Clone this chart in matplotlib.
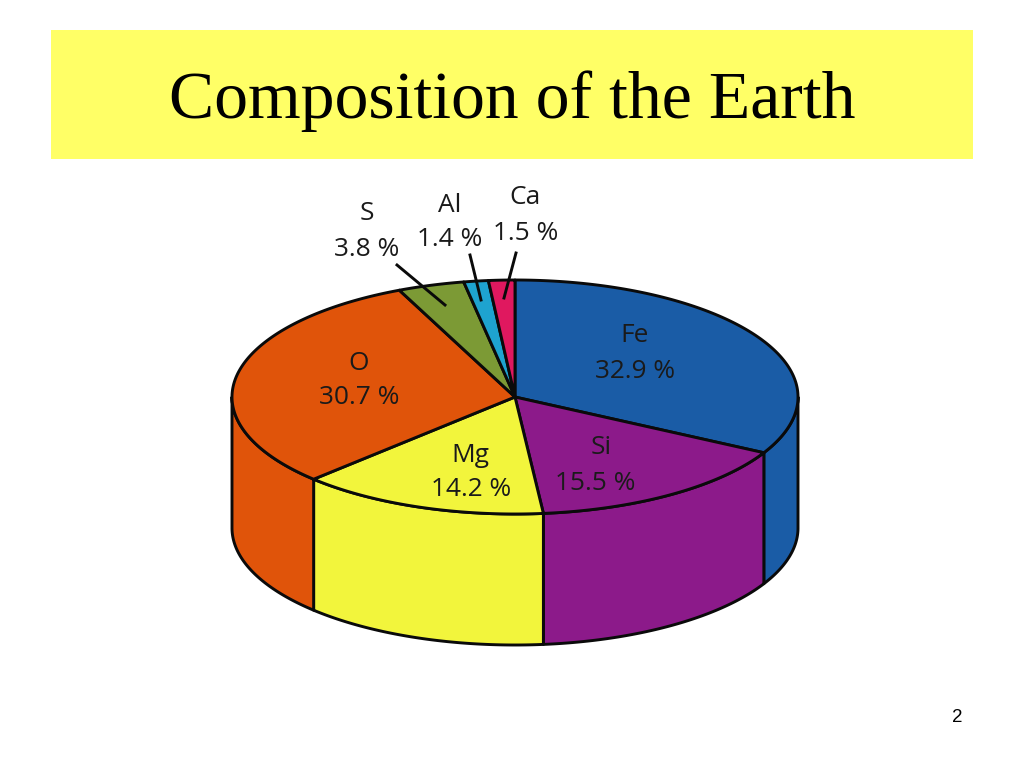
import numpy as np
import matplotlib
matplotlib.use('Agg')
import matplotlib.pyplot as plt
from matplotlib.patches import Polygon, Rectangle

elements = ['Fe', 'Si', 'Mg', 'O', 'S', 'Al', 'Ca']
percents = [32.9, 15.5, 14.2, 30.7, 3.8, 1.4, 1.5]
colors = ['#1a5ca6', '#8c1a8a', '#f2f53c', '#e0540a', '#7c9a35', '#1ea3cf', '#e0185f']
name_pos = [(635, 336), (601, 448), (470, 455), (359, 364), (367, 214), (450, 206), (525, 198)]
value_pos = [(635, 371), (595, 483), (471, 490), (359, 398), (367, 250), (450, 240), (526, 234)]

cx, cy, rx, ry, depth = 515, 397, 283, 117, 131
edge = '#0a0a0a'


def rim(a, b, drop=0):
    # points on the ellipse, angle clockwise from the top
    t = np.radians(np.linspace(a, b, 200))
    return np.column_stack([cx + rx * np.sin(t), cy - ry * np.cos(t) + drop])


fig = plt.figure(figsize=(10.24, 7.68), dpi=100)
ax = fig.add_axes([0, 0, 1, 1])
ax.set_xlim(0, 1024)
ax.set_ylim(768, 0)
ax.axis('off')

ax.add_patch(Rectangle((51, 30), 922, 129, color='#ffff66', lw=0))
ax.text(512, 101, 'Composition of the Earth', ha='center', va='center',
        fontsize=48.8, family='Liberation Serif', color='black')

ends = np.cumsum(percents) / sum(percents) * 360
starts = np.r_[0, ends[:-1]]

# front wall first
for a, b, c in zip(starts, ends, colors):
    lo, hi = max(a, 90), min(b, 270)
    if lo >= hi:
        continue
    top = rim(lo, hi)
    bottom = rim(lo, hi, depth)[::-1]
    ax.add_patch(Polygon(np.vstack([top, bottom]), closed=True, fc=c, ec=edge, lw=2.1, joinstyle='round'))

# top face
for a, b, c in zip(starts, ends, colors):
    pts = np.vstack([[cx, cy], rim(a, b)])
    ax.add_patch(Polygon(pts, closed=True, fc=c, ec=edge, lw=2.1, joinstyle='round'))

for el, p, np_, vp in zip(elements, percents, name_pos, value_pos):
    ax.text(np_[0], np_[1], el, ha='center', va='center', fontsize=18.9,
            family='Open Sans', color='#1a1a1a')
    ax.text(vp[0], vp[1], f'{p} %', ha='center', va='center', fontsize=18.9,
            family='Open Sans', color='#1a1a1a')

# leaders for the small slices
leaders = [((397, 265), (445, 305)), ((470, 255), (481, 300)), ((516, 253), (504, 298))]
for start, stop in leaders:
    ax.plot([start[0], stop[0]], [start[1], stop[1]], color=edge, lw=2.1)

ax.text(957, 717, '2', ha='center', va='center', fontsize=13.5, family='Liberation Sans', color='black')

fig.savefig('out.png', dpi=100)
